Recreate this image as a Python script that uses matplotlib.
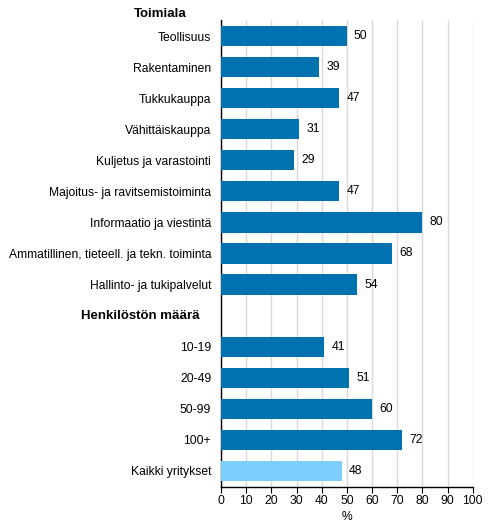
import numpy as np
import matplotlib
matplotlib.use("Agg")
import matplotlib.pyplot as plt

plt.rcParams["font.family"] = ["Liberation Sans", "DejaVu Sans"]
plt.rcParams["font.size"] = 8.7

# Dati
toimiala = ["Teollisuus", "Rakentaminen", "Tukkukauppa", "Vähittäiskauppa",
            "Kuljetus ja varastointi", "Majoitus- ja ravitsemistoiminta",
            "Informaatio ja viestintä", "Ammatillinen, tieteell. ja tekn. toiminta",
            "Hallinto- ja tukipalvelut"]
toimiala_values = [50, 39, 47, 31, 29, 47, 80, 68, 54]
koko = ["10-19", "20-49", "50-99", "100+"]
koko_values = [41, 51, 60, 72]
kaikki = ["Kaikki yritykset"]
kaikki_values = [48]
header1 = "Toimiala"
header2 = "Henkilöstön määrä"
xticks = list(range(0, 101, 10))

dark = "#0072b0"
light = "#7acffd"

labels = toimiala + [""] + koko + kaikki
values = toimiala_values + [np.nan] + koko_values + kaikki_values
colors = [dark] * len(toimiala) + [dark] + [dark] * len(koko) + [light]
ypos = np.arange(len(labels))

fig = plt.figure(figsize=(4.91, 5.29), dpi=100)
ax = fig.add_axes([0.450, 0.0803, 0.513, 0.881])

for y, v, c in zip(ypos, values, colors):
    if np.isnan(v):
        continue
    ax.barh(y, v, height=0.65, color=c, zorder=3)
    ax.text(v + 2.8, y, f"{v:.0f}", va="center", ha="left", zorder=4)

ax.set_ylim(len(labels) - 0.5, -0.5)
ax.set_xlim(0, 100)
ax.set_yticks(ypos)
ax.set_yticklabels(labels)
ax.tick_params(axis="y", length=0, pad=7)
ax.set_xticks(xticks)
ax.tick_params(axis="x", direction="out", length=4, pad=2)
ax.set_xlabel("%", labelpad=3)

ax.grid(True, axis="x", color="#d9d9d9", linewidth=1, zorder=0)
ax.set_axisbelow(True)
for s in ["top", "right"]:
    ax.spines[s].set_visible(False)
ax.spines["left"].set_linewidth(1)
ax.spines["bottom"].set_linewidth(1)

# Intestazioni
fig.text(134 / 491, 1 - 14 / 529, header1, fontweight="bold", va="center",
         ha="left", fontsize=9.5)
ax.text(-0.555, 9, header2, fontweight="bold", va="center", ha="left",
        fontsize=9.5, transform=ax.get_yaxis_transform())

fig.savefig("out.png", dpi=100)
